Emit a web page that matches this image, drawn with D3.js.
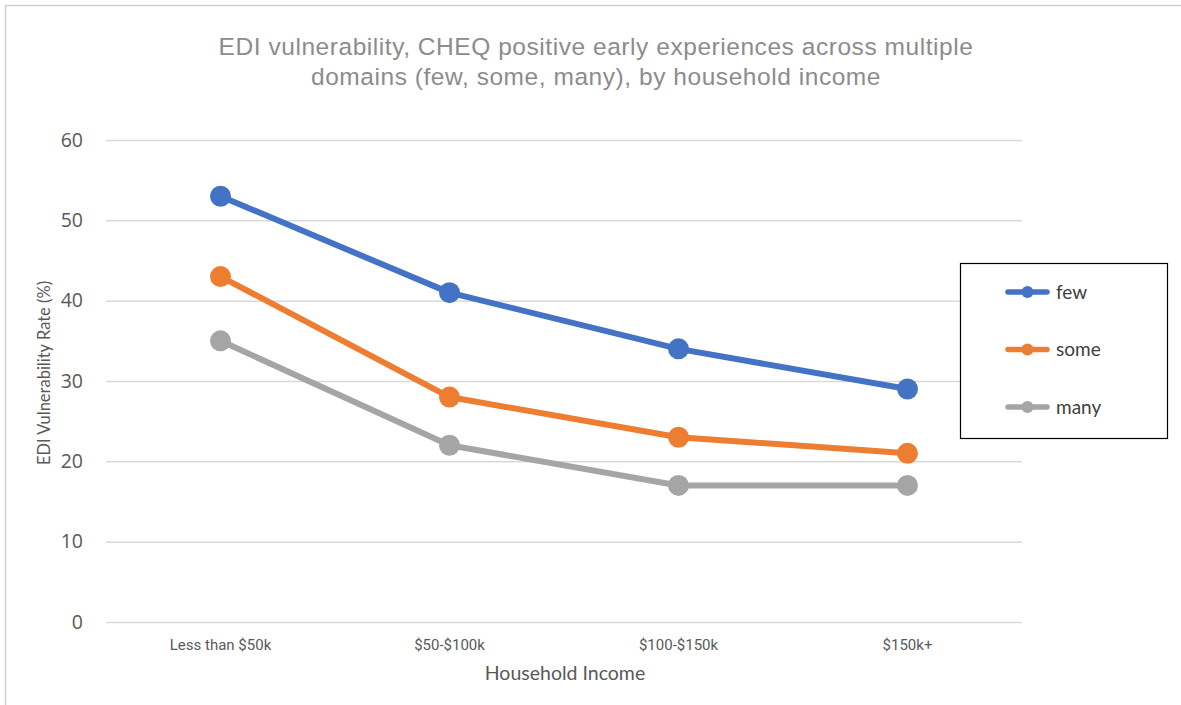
<!DOCTYPE html>
<html>
<head>
<meta charset="utf-8">
<script src="https://cdn.jsdelivr.net/npm/d3@7"></script>
<style>
  html, body { margin: 0; padding: 0; background: #fff; }
  svg { display: block; }
</style>
</head>
<body>
<svg id="chart" width="1181" height="705"></svg>
<script>
// Income bands along the x axis
const categories = ["Less than $50k", "$50-$100k", "$100-$150k", "$150k+"];

// EDI vulnerability rate (%) by number of domains with positive early experiences
const seriesNames = ["few", "some", "many"];
const fewValues  = [53, 41, 34, 29];
const someValues = [43, 28, 23, 21];
const manyValues = [35, 22, 17, 17];
const seriesColors = ["#4472C4", "#ED7D31", "#A5A5A5"];

const yTicks = [0, 10, 20, 30, 40, 50, 60];

const titleLines = [
  "EDI vulnerability, CHEQ positive early experiences across multiple",
  "domains (few, some, many), by household income"
];

const series = seriesNames.map((name, i) => ({
  name,
  color: seriesColors[i],
  values: [fewValues, someValues, manyValues][i]
}));

const svg = d3.select("#chart");

// Chart-area frame (left and top edges visible)
svg.append("path")
  .attr("d", "M5.5,705 L5.5,5.5 L1181,5.5")
  .attr("fill", "none")
  .attr("stroke", "#d0d0d0")
  .attr("stroke-width", 1.5);

const plot = { left: 106, right: 1022, top: 140, bottom: 622 };

const x = d3.scaleBand()
  .domain(categories)
  .range([plot.left, plot.right]);

const y = d3.scaleLinear()
  .domain([0, 60])
  .range([plot.bottom, plot.top]);

// Title
svg.append("text")
  .attr("x", 596)
  .attr("y", 55)
  .attr("text-anchor", "middle")
  .attr("font-family", "Liberation Sans, Arial, sans-serif")
  .attr("font-size", 24.5)
  .attr("letter-spacing", 0.55)
  .attr("fill", "#8c8c8c")
  .selectAll("tspan")
  .data(titleLines)
  .join("tspan")
  .attr("x", 596)
  .attr("dy", (d, i) => i === 0 ? 0 : 29.5)
  .text(d => d);

// Horizontal gridlines + y tick labels
const yAxis = d3.axisLeft(y)
  .tickValues(yTicks)
  .tickSize(-(plot.right - plot.left))
  .tickPadding(23)
  .tickFormat(d3.format("d"));

const gy = svg.append("g")
  .attr("transform", `translate(${plot.left},0)`)
  .call(yAxis);
gy.select(".domain").remove();
gy.selectAll(".tick line")
  .attr("stroke", "#d9d9d9")
  .attr("stroke-width", 1.5);
gy.selectAll(".tick text")
  .attr("font-family", "Open Sans, Noto Sans, sans-serif")
  .attr("font-size", 19.5)
  .attr("fill", "#595959");

// Category labels
const xAxis = d3.axisBottom(x).tickSize(0).tickPadding(17);
const gx = svg.append("g")
  .attr("transform", `translate(0,${plot.bottom})`)
  .call(xAxis);
gx.select(".domain").remove();
gx.selectAll(".tick text")
  .attr("font-family", "Liberation Sans Narrow, Roboto, sans-serif")
  .attr("font-size", 15)
  .attr("fill", "#595959");

// Axis titles
svg.append("text")
  .attr("x", 565)
  .attr("y", 680)
  .attr("text-anchor", "middle")
  .attr("font-family", "Lato, Open Sans, sans-serif")
  .attr("font-size", 19.5)
  .attr("fill", "#595959")
  .text("Household Income");

svg.append("text")
  .attr("transform", "translate(50,373) rotate(-90)")
  .attr("text-anchor", "middle")
  .attr("font-family", "Lato, Open Sans, sans-serif")
  .attr("font-size", 16.5)
  .attr("fill", "#595959")
  .text("EDI Vulnerability Rate (%)");

// Lines and markers
const cx = d => x(d) + x.bandwidth() / 2;
const line = d3.line()
  .x((d, i) => cx(categories[i]))
  .y(d => y(d));

const gs = svg.append("g")
  .selectAll("g")
  .data(series)
  .join("g");

gs.append("path")
  .attr("d", d => line(d.values))
  .attr("fill", "none")
  .attr("stroke", d => d.color)
  .attr("stroke-width", 6)
  .attr("stroke-linejoin", "round");

gs.selectAll("circle")
  .data(d => d.values.map((v, i) => ({ v, i, color: d.color })))
  .join("circle")
  .attr("cx", d => cx(categories[d.i]))
  .attr("cy", d => y(d.v))
  .attr("r", 10.5)
  .attr("fill", d => d.color);

// Legend
const legend = svg.append("g").attr("transform", "translate(960,263)");
legend.append("rect")
  .attr("x", 0.5).attr("y", 0.5)
  .attr("width", 207).attr("height", 175)
  .attr("fill", "#fff")
  .attr("stroke", "#000")
  .attr("stroke-width", 1.2);

const li = legend.selectAll("g.item")
  .data(series)
  .join("g")
  .attr("class", "item")
  .attr("transform", (d, i) => `translate(0,${29 + i * 57.5})`);

li.append("line")
  .attr("x1", 48).attr("x2", 87)
  .attr("stroke", d => d.color)
  .attr("stroke-width", 5.5)
  .attr("stroke-linecap", "round");
li.append("circle")
  .attr("cx", 67.5)
  .attr("r", 6)
  .attr("fill", d => d.color);
li.append("text")
  .attr("x", 96)
  .attr("dy", "0.35em")
  .attr("font-family", "Lato, Open Sans, sans-serif")
  .attr("font-size", 19)
  .attr("fill", "#404040")
  .text(d => d.name);
</script>
</body>
</html>
